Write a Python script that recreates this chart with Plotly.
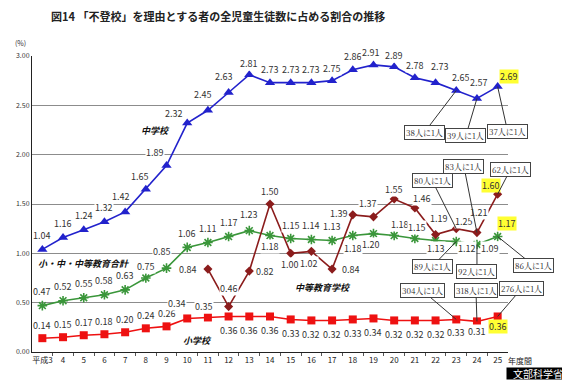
import plotly.graph_objects as go

years = ["平成3", "4", "5", "6", "7", "8", "9", "10", "11", "12", "13", "14",
         "15", "16", "17", "18", "19", "20", "21", "22", "23", "24", "25"]
junior_high = [1.04, 1.16, 1.24, 1.32, 1.42, 1.65, 1.89, 2.32, 2.45, 2.63, 2.81, 2.73,
               2.73, 2.73, 2.75, 2.86, 2.91, 2.89, 2.78, 2.73, 2.65, 2.57, 2.69]
total = [0.47, 0.52, 0.55, 0.58, 0.63, 0.75, 0.85, 1.06, 1.11, 1.17, 1.23, 1.18,
         1.15, 1.14, 1.13, 1.18, 1.20, 1.18, 1.15, 1.13, 1.12, 1.09, 1.17]
elementary = [0.14, 0.15, 0.17, 0.18, 0.20, 0.24, 0.26, 0.34, 0.35, 0.36, 0.36, 0.36,
              0.33, 0.32, 0.32, 0.33, 0.34, 0.32, 0.32, 0.32, 0.33, 0.31, 0.36]
secondary = [None, None, None, None, None, None, None, None, 0.84, 0.46, 0.82, 1.50,
             1.00, 1.02, 0.84, 1.39, 1.37, 1.55, 1.46, 1.19, 1.25, 1.21, 1.60]
ytick_vals = [0.0, 0.5, 1.0, 1.5, 2.0, 2.5, 3.0]

# callouts: (series, year, text)
callouts = [
    ("jh", "23", "38人に1人"), ("jh", "24", "39人に1人"), ("jh", "25", "37人に1人"),
    ("sec", "23", "80人に1人"), ("sec", "24", "83人に1人"), ("sec", "25", "62人に1人"),
    ("tot", "23", "89人に1人"), ("tot", "24", "92人に1人"), ("tot", "25", "86人に1人"),
    ("el", "23", "304人に1人"), ("el", "24", "318人に1人"), ("el", "25", "276人に1人"),
]

# ---- styles / positions ----
OFF = 8  # page body margin offset
W, H = 570 - OFF, 380 - OFF
ML, MR, MT, MB = 32 - OFF, 62, 56 - OFF, 28
PW, PH = W - ML - MR, H - MT - MB

C_BLUE = "#2222CC"
C_GREEN = "#3A963A"
C_RED = "#EE1111"
C_DRED = "#8B1C1C"
LABEL_FONT = dict(family="Noto Sans CJK JP", size=9, color="#333333")

# label offsets in pixels (dx, dy up)
jh_off = [(0, 14), (0, 14), (0, 14), (0, 14), (-4, 15), (-6, 13), (-12, 13), (-13, 10),
          (-5, 16), (-5, 16), (0, 11), (0, 13), (0, 13), (0, 13), (0, 12), (0, 13),
          (-2, 12), (0, 11), (0, 12), (4, 16), (5, 13), (2, 16), (11, 10)]
tot_off = [(0, 14), (0, 14), (0, 14), (0, 14), (0, 14), (0, 12), (-5, 17), (0, 14),
           (0, 14), (0, 14), (0, 16), (0, -11), (0, 13), (0, 14), (0, 14), (0, -13),
           (-2, -11), (6, 11), (2, 11), (0, -8), (11, -7), (13, -4), (9, 13)]
el_off = [(0, 13), (0, 13), (0, 13), (0, 13), (0, 13), (0, 13), (0, 13), (-10, 15),
          (-4, 11), (0, -14), (0, -14), (0, -14), (0, -14), (0, -14), (0, -14), (0, -14),
          (0, -14), (0, -14), (0, -14), (0, -14), (0, -13), (0, -10), (0, -10)]
sec_off = [None] * 8 + [(-20, 0), (0, 18), (16, 0), (0, 13), (-1, -11), (-2, -12), (19, 0),
                        (-14, 1), (-5, 13), (0, 10), (7, 9), (3, 16), (8, 7), (2, 20), (-7, 9)]
highlight = {"25"}

callout_off = {
    ("jh", "23"): (-32, 42), ("jh", "24"): (-11, 37), ("jh", "25"): (10, 45),
    ("sec", "23"): (-24, -48), ("sec", "24"): (-13, -66), ("sec", "25"): (13, -25),
    ("tot", "23"): (-24, 25), ("tot", "24"): (0, 27), ("tot", "25"): (36, 29),
    ("el", "23"): (-34, -29), ("el", "24"): (-1, -31), ("el", "25"): (24, -28),
}

series = {"jh": junior_high, "tot": total, "el": elementary, "sec": secondary}


def px_x(px):
    return (px - OFF - ML) / PW


def px_y(py):
    return (H - MB - (py - OFF)) / PH


fig = go.Figure()
xi = list(range(len(years)))

fig.add_trace(go.Scatter(x=xi, y=junior_high, mode="lines+markers",
                         line=dict(color=C_BLUE, width=1.6),
                         marker=dict(symbol="triangle-up", size=9, color=C_BLUE),
                         name="中学校"))
fig.add_trace(go.Scatter(x=xi, y=total, mode="lines+markers",
                         line=dict(color=C_GREEN, width=1.6),
                         marker=dict(symbol="asterisk-open", size=8,
                                     line=dict(color=C_GREEN, width=1.6)),
                         name="小・中・中等教育合計"))
fig.add_trace(go.Scatter(x=xi, y=secondary, mode="lines+markers",
                         line=dict(color=C_DRED, width=1.6),
                         marker=dict(symbol="diamond", size=7, color=C_DRED),
                         name="中等教育学校"))
fig.add_trace(go.Scatter(x=xi, y=elementary, mode="lines+markers",
                         line=dict(color=C_RED, width=1.6),
                         marker=dict(symbol="square", size=8, color=C_RED),
                         name="小学校"))

annotations = []


def add_labels(vals, offs):
    for i, (yr, v, off) in enumerate(zip(years, vals, offs)):
        if v is None:
            continue
        annotations.append(dict(
            x=i, y=v, xref="x", yref="y", text=f"{v:.2f}", showarrow=False,
            xanchor="center", yanchor="middle",
            xshift=off[0], yshift=off[1], font=LABEL_FONT,
            bgcolor="#FFFF33" if yr in highlight else "white", borderpad=0))


add_labels(junior_high, jh_off)
add_labels(total, tot_off)
add_labels(elementary, el_off)
add_labels(secondary, sec_off)

for key, yr, txt in callouts:
    i = years.index(yr)
    v = series[key][i]
    ax, ay = callout_off[(key, yr)]
    annotations.append(dict(
        x=i, y=v, xref="x", yref="y", text=txt, showarrow=True, arrowhead=0,
        arrowwidth=1, arrowcolor="#333333", ax=ax, ay=ay, standoff=0,
        font=dict(family="Noto Serif CJK JP, Noto Sans CJK JP", size=8, color="#222222"),
        bgcolor="white", bordercolor="#444444", borderwidth=1, borderpad=1))

# series name labels
name_font = dict(family="Noto Sans CJK JP", size=9, color="#111111")
for txt, xx, yy in [("中学校", 155, 130), ("小・中・中等教育合計", 83, 263),
                    ("中等教育学校", 323, 287), ("小学校", 197, 340)]:
    annotations.append(dict(x=px_x(xx), y=px_y(yy), xref="paper", yref="paper",
                            xanchor="center", yanchor="middle",
                            text=f"<b><i>{txt}</i></b>", showarrow=False, font=name_font))

# title, unit, x-axis suffix, source
annotations += [
    dict(x=px_x(218), y=px_y(16), xref="paper", yref="paper", showarrow=False,
         xanchor="center", yanchor="middle",
         text="<b>図14 「不登校」を理由とする者の全児童生徒数に占める割合の推移</b>",
         font=dict(family="Noto Sans CJK JP", size=11, color="#222222")),
    dict(x=px_x(20), y=px_y(43), xref="paper", yref="paper", showarrow=False,
         xanchor="center", yanchor="middle",
         text="(%)", font=dict(family="Noto Sans CJK JP", size=7, color="#333333")),
    dict(x=px_x(520), y=px_y(360), xref="paper", yref="paper", showarrow=False,
         xanchor="center", yanchor="middle", borderpad=0,
         text="年度間", font=dict(family="Noto Sans CJK JP", size=8, color="#222222")),
    dict(x=px_x(570), y=px_y(380), xref="paper", yref="paper", xanchor="right",
         yanchor="bottom", showarrow=False, text="文部科学省", bgcolor="black",
         borderpad=0, width=62, height=11, align="center",
         font=dict(family="Noto Sans CJK JP", size=10, color="white")),
]

fig.update_layout(
    width=W, height=H,
    margin=dict(l=ML, r=MR, t=MT, b=MB),
    paper_bgcolor="white", plot_bgcolor="white",
    showlegend=False,
    annotations=annotations,
    xaxis=dict(tickmode="array", tickvals=xi, ticktext=years,
               range=[-0.5, len(years) - 0.5], showline=True, linecolor="#222222",
               linewidth=1, ticks="", showgrid=False, zeroline=False,
               tickangle=0, automargin=False,
               minor=dict(tickvals=[i + 0.5 for i in xi[:-1]], ticks="outside",
                          ticklen=3, tickcolor="#555555", showgrid=False),
               tickfont=dict(family="Noto Sans CJK JP", size=8, color="#222222")),
    yaxis=dict(range=[0, 3.0], tickvals=ytick_vals, tickformat=".2f",
               showline=True, linecolor="#222222", linewidth=1, automargin=False,
               showgrid=True, gridcolor="#8C8C8C", gridwidth=1, zeroline=False,
               ticks="", tickfont=dict(family="Noto Sans CJK JP", size=7, color="#333333")),
)

fig.write_html("out.html")
